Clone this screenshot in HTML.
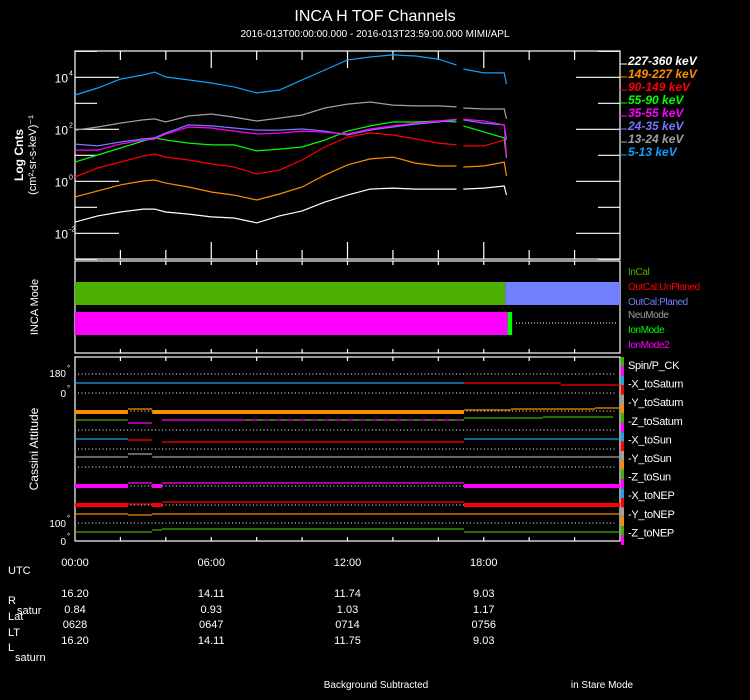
<!DOCTYPE html>
<html><head><meta charset="utf-8">
<style>
html,body{margin:0;padding:0;background:#000;}
svg{display:block;font-family:"Liberation Sans",sans-serif;}
</style></head>
<body>
<svg id="c" width="750" height="700" viewBox="0 0 750 700">
<rect width="750" height="700" fill="#000"/>
<text x="375" y="21" fill="#fff" font-size="16" text-anchor="middle">INCA H TOF Channels</text>
<text x="375" y="37" fill="#fff" font-size="10" text-anchor="middle">2016-013T00:00:00.000 - 2016-013T23:59:00.000 MIMI/APL</text>
<g id="g1"></g>
</svg>
<script>
// ---- data ----
const hours = [0,1,2,3,3.5,4,5,6,7,8,9,10,11,12,13,14,15,16,16.8,null,17.1,18,18.9,19.0];
const channelNames = ["227-360 keV","149-227 keV","90-149 keV","55-90 keV","35-55 keV","24-35 keV","13-24 keV","5-13 keV"];
const log_5_13   = [3.32,3.59,3.93,4.09,4.20,4.01,3.90,3.78,3.63,3.40,3.51,3.90,4.28,4.67,4.78,4.86,4.82,4.70,4.47,null,4.32,4.17,4.17,3.74];
const log_13_24  = [1.97,2.09,2.24,2.36,2.40,2.28,2.51,2.59,2.47,2.32,2.43,2.55,2.82,2.97,3.05,2.93,2.90,2.90,2.86,null,2.82,2.78,2.78,2.40];
const log_24_35  = [1.43,1.36,1.51,1.63,1.67,1.86,2.17,2.13,2.05,1.97,1.97,2.01,1.93,1.78,1.97,2.09,2.20,2.28,2.36,null,2.36,2.24,2.17,1.59];
const log_35_55  = [1.20,1.20,1.43,1.59,1.62,1.82,2.09,2.05,1.93,1.82,1.85,1.93,1.89,1.82,2.01,2.13,2.24,2.32,2.39,null,2.39,2.32,2.17,0.93];
const log_55_90  = [0.74,1.01,1.28,1.55,1.67,1.59,1.47,1.40,1.40,1.17,1.24,1.32,1.59,1.93,2.13,2.28,2.28,2.32,2.28,null,2.13,1.90,1.67,0.90];
const log_90_149 = [0.17,0.51,0.74,0.97,1.05,0.93,0.82,0.67,0.55,0.28,0.43,0.82,1.32,1.70,1.86,1.78,1.63,1.47,1.40,null,1.36,1.36,1.59,0.90];
const log_149_227= [-0.60,-0.37,-0.14,0.01,0.05,-0.07,-0.22,-0.41,-0.53,-0.72,-0.49,-0.22,0.24,0.63,0.86,0.93,0.70,0.59,0.59,null,0.55,0.59,0.74,0.20];
const log_227_360= [-1.57,-1.33,-1.18,-1.07,-1.07,-1.18,-1.26,-1.37,-1.41,-1.60,-1.33,-1.14,-0.80,-0.53,-0.30,-0.26,-0.30,-0.30,-0.30,null,-0.30,-0.26,-0.18,-0.53];
const yTickExps = [-2,0,2,4];
const timeLabels = ["00:00","06:00","12:00","18:00"];
const rsat = ["16.20","14.11","11.74","9.03"];
const lat = ["0.84","0.93","1.03","1.17"];
const lt = ["0628","0647","0714","0756"];
const lsat = ["16.20","14.11","11.75","9.03"];
const modeEnd = [18.95, 19.05, 19.25];

const NS="http://www.w3.org/2000/svg";
const svg=document.getElementById('c');
function el(tag,attrs,parent){const e=document.createElementNS(NS,tag);for(const k in attrs)e.setAttribute(k,attrs[k]);(parent||svg).appendChild(e);return e;}
function txt(x,y,s,attrs){const e=el('text',Object.assign({x:x,y:y,fill:'#fff','font-size':11},attrs||{}));e.textContent=s;return e;}
const X0=75,X1=620;
const xs=h=>X0+h*(X1-X0)/24;
const ys=l=>181.3-26*l;

// panels
[[51,259,'flux-panel'],[261,353,'mode-panel'],[357,541,'attitude-panel']].forEach(p=>{
  const r=el('rect',{x:X0,y:p[0],width:X1-X0,height:p[1]-p[0],fill:'none',stroke:'#fff','stroke-width':1.2});
  
  
  for(let i=1;i<12;i++){const x=xs(i*2);const big=i%3==0;
    let L=(p[2]=='flux-panel')?(big?17:9):4;
    el('line',{x1:x,x2:x,y1:p[0],y2:p[0]+L,stroke:'#fff','stroke-width':1.2});
    el('line',{x1:x,x2:x,y1:p[1],y2:p[1]-L,stroke:'#fff','stroke-width':1.2});
  }
});
// flux y ticks
for(let e=-3;e<=5;e++){const y=ys(e);const major=e%2==0;const L=major?44:22;
  el('line',{x1:X0,x2:X0+L,y1:y,y2:y,stroke:'#fff','stroke-width':1.2});
  el('line',{x1:X1,x2:X1-L,y1:y,y2:y,stroke:'#fff','stroke-width':1.2});}
yTickExps.forEach(e=>{const t=txt(68,ys(e)+5,'10',{'text-anchor':'end','font-size':12});
  
  
  const s=txt(69,ys(e)-2,String(e),{'font-size':7});});
let t=txt(0,0,'Log Cnts',{'font-size':12,'font-weight':'bold',transform:'translate(23,155) rotate(-90)','text-anchor':'middle'});


t=txt(0,0,'(cm²-sr-s-keV)⁻¹',{'font-size':11,transform:'translate(36,155) rotate(-90)','text-anchor':'middle'});



const series=[log_227_360,log_149_227,log_90_149,log_55_90,log_35_55,log_24_35,log_13_24,log_5_13];
const colors=['#ffffff','#ff8c00','#ff0000','#00ff00','#ff00ff','#7878ff','#a0a0a0','#10a0ff'];
[7,6,0,1,2,3,5,4].forEach(i=>{
  let d='',pen=false;
  hours.forEach((h,j)=>{const v=series[i][j];if(h===null||v===null){pen=false;return;}
    d+=(pen?'L':'M')+xs(h).toFixed(1)+' '+ys(v).toFixed(1)+' ';pen=true;});
  const p=el('path',{d:d,fill:'none',stroke:colors[i],'stroke-width':1.2});
  
  
});
channelNames.forEach((n,i)=>{const y=61+i*13;
  el('line',{x1:620,x2:627,y1:y+3,y2:y+3,stroke:colors[i]});
  const t=txt(628,y+4,n,{fill:colors[i],'font-size':12,'font-weight':'bold','font-style':'italic'});
  
  
});

// mode panel
let r=el('rect',{x:X0,y:282,width:xs(modeEnd[0])-X0,height:23,fill:'#4cb000'});


r=el('rect',{x:xs(modeEnd[0]),y:282,width:X1-xs(modeEnd[0]),height:23,fill:'#7080ff'});


r=el('rect',{x:X0,y:312,width:xs(modeEnd[1])-X0,height:23,fill:'#ff00ff'});


r=el('rect',{x:xs(modeEnd[1]),y:312,width:xs(modeEnd[2])-xs(modeEnd[1]),height:23,fill:'#00ff00'});


el('line',{x1:516,x2:617,y1:323,y2:323,stroke:'#fff','stroke-dasharray':'1 2'});
t=txt(0,0,'INCA Mode',{'font-size':11,transform:'translate(38,307) rotate(-90)','text-anchor':'middle'});


[['InCal','#4cb000',275],['OutCal:UnPlaned','#ff0000',290],['OutCal:Planed','#7080ff',305],['NeuMode','#a0a0a0',318],['IonMode','#00ff00',333],['IonMode2','#ff00ff',348]].forEach(a=>{
  const t=txt(628,a[2],a[0],{fill:a[1],'font-size':10,'letter-spacing':-0.4});
  
  
});

// attitude panel
[374,393,411,430,449,467,486,505,523].forEach(y=>el('line',{x1:X0+3,x2:X1-3,y1:y,y2:y,stroke:'#fff','stroke-dasharray':'1 2.5'}));
function seg(h0,h1,y,c,w,name){const l=el('line',{x1:xs(h0),x2:xs(h1),y1:y,y2:y,stroke:c,'stroke-width':w||1.2});
  
  }
const hA=2.33,hC=3.4,hB=3.83,hD=17.13;
seg(0,hD,383,'#20a0e0');seg(hD,21.4,383,'#ff0000');seg(21.4,24,385,'#ff0000');
seg(0,hA,412,'#ff8c00',4);seg(hA,hC,409,'#ff8c00');seg(hC,hB,412,'#ff8c00',4);seg(hB,hD,412,'#ff8c00',4);seg(hD,19.2,410,'#ff8c00');seg(19.2,22.9,409,'#ff8c00');seg(22.9,24,408,'#ff8c00');
seg(0,hA,420,'#40b000');seg(hA,hC,423,'#ff00ff');seg(hB,hD,420,'#ff00ff');seg(hD,20.6,418,'#40b000');seg(20.6,23.7,417,'#40b000');
el('line',{x1:xs(7.5),x2:xs(hD),y1:420,y2:420,stroke:'#40b000','stroke-width':1.2,'stroke-dasharray':'6 6'});
seg(0,hA,439,'#20a0e0');seg(hA,hC,440,'#ff0000');seg(hB,hD,442,'#ff0000');seg(hD,24,439,'#20a0e0');
seg(0,hA,457,'#a0a0a0');seg(hA,hC,454,'#a0a0a0');seg(hC,24,457,'#a0a0a0');
seg(0,hA,486,'#ff00ff',4);seg(hA,hC,483,'#ff00ff');seg(hC,hB,486,'#ff00ff',4);seg(hB,hD,483,'#ff00ff');seg(hD,24,486,'#ff00ff',4);
seg(0,hA,505,'#ff0000',4);seg(hA,hC,504,'#ff0000');seg(hC,hB,505,'#ff0000',4);seg(hB,hD,502,'#ff0000');seg(hD,24,505,'#ff0000',4);
seg(0,hA,514,'#ff8c00');seg(hA,hC,515,'#ff8c00');seg(hC,24,514,'#ff8c00');
seg(0,hC,532,'#40b000');seg(hC,hB,530,'#40b000');seg(hB,hD,529,'#40b000');seg(hD,24,532,'#40b000');
txt(66,377,'180',{'font-size':10,'text-anchor':'end'});txt(67,371,'°',{'font-size':8});
txt(66,397,'0',{'font-size':10,'text-anchor':'end'});txt(67,391,'°',{'font-size':8});
txt(66,527,'100',{'font-size':10,'text-anchor':'end'});txt(67,521,'°',{'font-size':8});
txt(66,545,'0',{'font-size':10,'text-anchor':'end'});txt(67,539,'°',{'font-size':8});
t=txt(0,0,'Cassini Attitude',{'font-size':12,transform:'translate(38,449) rotate(-90)','text-anchor':'middle'});


const strip=['#40b000','#ff00ff','#20a0e0','#ff0000','#a0a0a0','#ff8c00'];
for(let y=357,i=0;y<545;y+=9.4,i++)el('rect',{x:621,y:y,width:3,height:Math.min(9.4,545-y),fill:strip[i%6]});
['Spin/P_CK','-X_toSatum','-Y_toSatum','-Z_toSatum','-X_toSun','-Y_toSun','-Z_toSun','-X_toNEP','-Y_toNEP','-Z_toNEP'].forEach((n,i)=>{
  const t=txt(628,369+i*18.6,n,{'font-size':11,'letter-spacing':-0.3});
  
  
});

// bottom info
timeLabels.forEach((s,i)=>{const x=xs(i*6);
  const t=txt(x,566,s,{'font-size':11,'text-anchor':'middle'});
  
  
  txt(x,597,rsat[i],{'font-size':11,'text-anchor':'middle'});
  txt(x,613,lat[i],{'font-size':11,'text-anchor':'middle'});
  txt(x,628,lt[i],{'font-size':11,'text-anchor':'middle'});
  txt(x,644,lsat[i],{'font-size':11,'text-anchor':'middle'});
});
txt(8,574,'UTC');txt(8,604,'R');txt(17,614,'satur');txt(8,620,'Lat');txt(8,636,'LT');txt(8,651,'L');txt(15,661,'saturn');
t=txt(376,688,'Background Subtracted',{'text-anchor':'middle','font-size':10});


t=txt(602,688,'in Stare Mode',{'text-anchor':'middle','font-size':10});


</script>
</body></html>
